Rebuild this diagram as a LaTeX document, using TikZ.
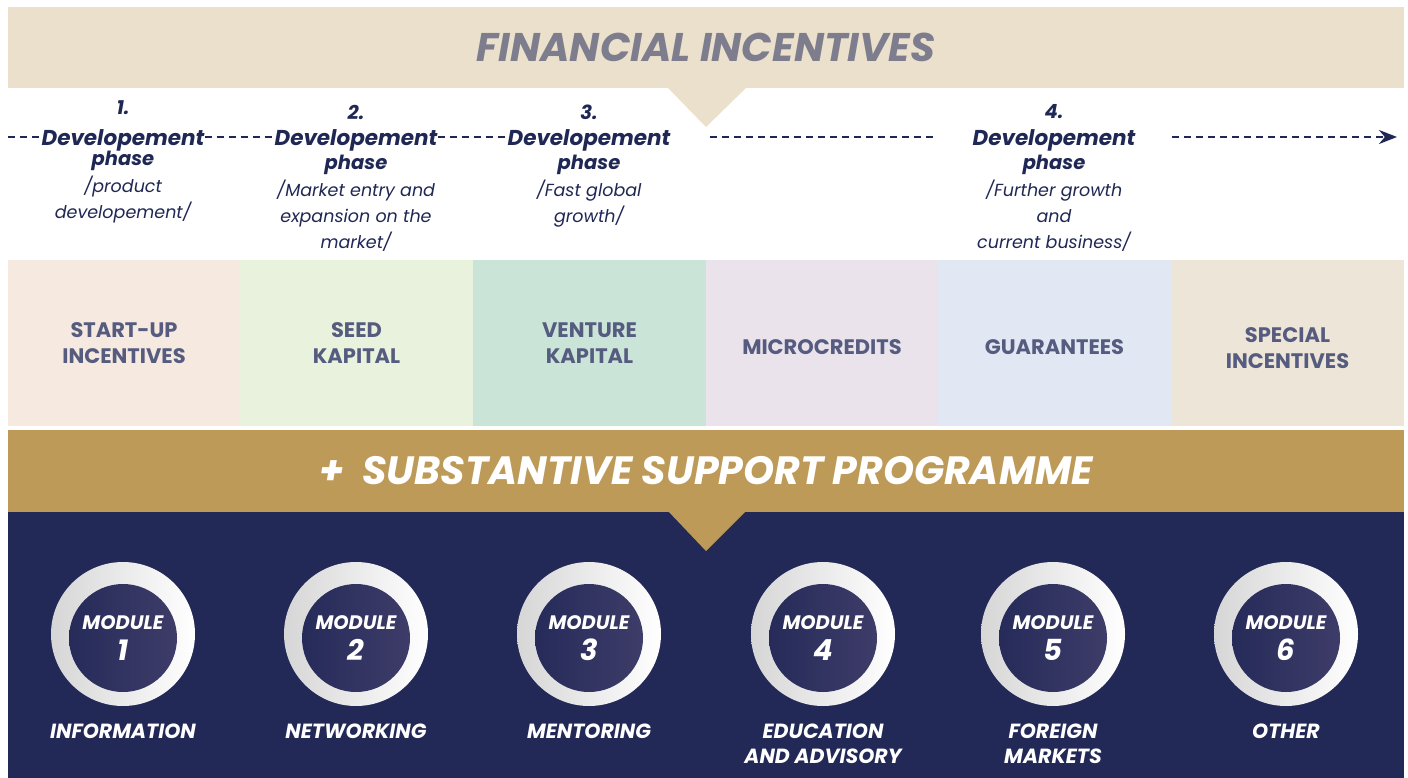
\documentclass[tikz,border=0pt]{standalone}
\usepackage{fontspec}
\setmainfont{Poppins}
\usetikzlibrary{positioning,arrows.meta}
\definecolor{band}{HTML}{EBE0CC}
\definecolor{gold}{HTML}{BE9A58}
\definecolor{navy}{HTML}{222957}
\definecolor{ink}{HTML}{1F2754}
\definecolor{titlegray}{HTML}{7E7D8E}
\definecolor{boxink}{HTML}{565C7F}
\definecolor{cA}{HTML}{F6E9E0}
\definecolor{cB}{HTML}{E8F2DD}
\definecolor{cC}{HTML}{CAE5D8}
\definecolor{cD}{HTML}{EAE3EC}
\definecolor{cE}{HTML}{E2E8F3}
\definecolor{cF}{HTML}{EDE5D8}
\definecolor{ringL}{HTML}{D6D6D6}
\definecolor{coreL}{HTML}{262B59}
\definecolor{coreR}{HTML}{3E3C69}

\begin{document}
\begin{tikzpicture}[x=1pt,y=-1pt,>={Stealth[length=18pt,width=14pt]},
      num/.style={text=ink,font=\fontsize{19.5}{22}\selectfont\bfseries\itshape},
      dev/.style={fill=white,inner sep=0pt,text=ink,font=\fontsize{21.5}{24}\selectfont\bfseries\itshape},
      desc/.style={text=ink,align=center,font=\fontsize{17.5}{26}\selectfont\itshape},
      cell/.style={minimum width=233pt,minimum height=166pt,inner sep=0pt},
      celltext/.style={align=center,text=boxink,font=\fontsize{21}{26}\selectfont\bfseries},
      dashline/.style={draw=ink,line width=2.6pt,dash pattern=on 7pt off 5pt},
      ring/.style={circle,minimum size=144pt,inner sep=0pt,left color=ringL,right color=white},
      core/.style={circle,minimum size=108pt,inner sep=0pt,left color=coreL,right color=coreR,
        text=white,align=center,font=\fontsize{19.5}{31}\selectfont\bfseries\itshape},
      modname/.style={anchor=north,text=white,align=center,
        font=\fontsize{20.5}{25}\selectfont\bfseries\itshape}]
      \useasboundingbox (0,0) rectangle (1408,778);

      % financial incentives
      \node[fill=band,minimum width=1396pt,minimum height=81pt,inner sep=0pt,text=titlegray,
        font=\fontsize{40}{46}\selectfont\bfseries\itshape] (fin) at (706,47.5) {FINANCIAL INCENTIVES};
      \fill[band] (668,88) -- (706,127) -- (746,88) -- cycle;

      % phases
      \node[dev] (d1) at (123,140) {Developement};
      \node[dev] (d2) at (356,140) {Developement};
      \node[dev] (d3) at (589,140) {Developement};
      \node[dev] (d4) at (1054,140) {Developement};
      \node[num] (n1) at (123,108) {1.};
      \node[num] (n2) at (356,112) {2.};
      \node[num] (n3) at (589,112) {3.};
      \node[num] (n4) at (1054,112) {4.};
      \node[num] (ph1) at (123,161) {phase};
      \node[num] (ph2) at (356,165) {phase};
      \node[num] (ph3) at (589,165) {phase};
      \node[num] (ph4) at (1054,165) {phase};
      \node[desc,anchor=north] (t1) at (123,172) {/product\\developement/};
      \node[desc,anchor=north] (t2) at (356,176) {/Market entry and\\expansion on the\\market/};
      \node[desc,anchor=north] (t3) at (589,176) {/Fast global\\growth/};
      \node[desc,anchor=north] (t4) at (1054,176) {/Further growth\\and\\current business/};
      \coordinate (s0) at (8,137);
      \coordinate (m0) at (710,137);
      \coordinate (m1) at (936,137);
      \coordinate (a0) at (1172,137);
      \coordinate (a1) at (1397,137);
      \draw[dashline] (s0) -- (d1.west |- s0);
      \draw[dashline] (d1.east |- s0) -- (d2.west |- s0);
      \draw[dashline] (d2.east |- s0) -- (d3.west |- s0);
      \draw[dashline] (m0) -- (m1);
      \draw[dashline,->] (a0) -- (a1);

      % instruments
      \node[cell,fill=cA] (b1) at (124,343) {};
      \node[cell,fill=cB] (b2) at (356.5,343) {};
      \node[cell,fill=cC] (b3) at (589.5,343) {};
      \node[cell,fill=cD] (b4) at (822,343) {};
      \node[cell,fill=cE] (b5) at (1054.5,343) {};
      \node[cell,fill=cF] (b6) at (1287.5,343) {};
      \node[celltext] (k1) at (b1) {START-UP\\INCENTIVES};
      \node[celltext] (k2) at (b2) {SEED\\KAPITAL};
      \node[celltext] (k3) at (b3) {VENTURE\\KAPITAL};
      \node[celltext,yshift=-4pt] (k4) at (b4) {MICROCREDITS};
      \node[celltext,yshift=-4pt] (k5) at (b5) {GUARANTEES};
      \node[celltext,yshift=-5pt] (k6) at (b6) {SPECIAL\\INCENTIVES};

      % support programme
      \fill[navy] (8,512) rectangle (1404,778);
      \node[fill=gold,minimum width=1396pt,minimum height=82pt,inner sep=0pt,text=white,
        font=\fontsize{39.5}{44}\selectfont\bfseries\itshape] (sup) at (706,471) {+\ \ SUBSTANTIVE SUPPORT PROGRAMME};
      \fill[gold] (668,511) -- (706,551) -- (746,511) -- cycle;

      % modules
      \node[ring] (r1) at (123,634) {};
      \node[ring] (r2) at (356,634) {};
      \node[ring] (r3) at (589,634) {};
      \node[ring] (r4) at (823,634) {};
      \node[ring] (r5) at (1053,634) {};
      \node[ring] (r6) at (1286,634) {};
      \node[core,yshift=-4pt] (m1c) at (r1) {MODULE\\{\fontsize{29}{31}\selectfont 1}};
      \node[core,yshift=-4pt] (m2c) at (r2) {MODULE\\{\fontsize{29}{31}\selectfont 2}};
      \node[core,yshift=-4pt] (m3c) at (r3) {MODULE\\{\fontsize{29}{31}\selectfont 3}};
      \node[core,yshift=-4pt] (m4c) at (r4) {MODULE\\{\fontsize{29}{31}\selectfont 4}};
      \node[core,yshift=-4pt] (m5c) at (r5) {MODULE\\{\fontsize{29}{31}\selectfont 5}};
      \node[core,yshift=-4pt] (m6c) at (r6) {MODULE\\{\fontsize{29}{31}\selectfont 6}};
      \node[modname] (l1) at (123,720) {INFORMATION};
      \node[modname] (l2) at (356,720) {NETWORKING};
      \node[modname] (l3) at (589,720) {MENTORING};
      \node[modname] (l4) at (823,720) {EDUCATION\\AND ADVISORY};
      \node[modname] (l5) at (1053,720) {FOREIGN\\MARKETS};
      \node[modname] (l6) at (1286,720) {OTHER};
    \end{tikzpicture}
\end{document}
